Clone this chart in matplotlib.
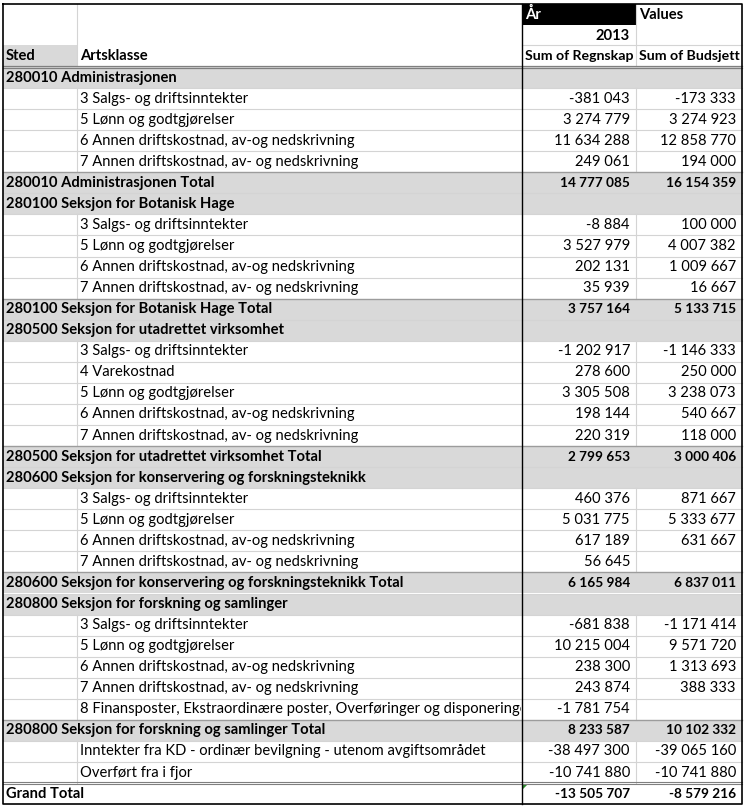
import matplotlib.pyplot as plt
from matplotlib.patches import Rectangle, Polygon

plt.rcParams['font.family'] = ['Lato', 'DejaVu Sans']

steder = ["280010 Administrasjonen",
          "280100 Seksjon for Botanisk Hage",
          "280500 Seksjon for utadrettet virksomhet",
          "280600 Seksjon for konservering og forskningsteknikk",
          "280800 Seksjon for forskning og samlinger"]

artsklasse = [
    ["3 Salgs- og driftsinntekter", "5 Lønn og godtgjørelser",
     "6 Annen driftskostnad, av-og nedskrivning", "7 Annen driftskostnad, av- og nedskrivning"],
    ["3 Salgs- og driftsinntekter", "5 Lønn og godtgjørelser",
     "6 Annen driftskostnad, av-og nedskrivning", "7 Annen driftskostnad, av- og nedskrivning"],
    ["3 Salgs- og driftsinntekter", "4 Varekostnad", "5 Lønn og godtgjørelser",
     "6 Annen driftskostnad, av-og nedskrivning", "7 Annen driftskostnad, av- og nedskrivning"],
    ["3 Salgs- og driftsinntekter", "5 Lønn og godtgjørelser",
     "6 Annen driftskostnad, av-og nedskrivning", "7 Annen driftskostnad, av- og nedskrivning"],
    ["3 Salgs- og driftsinntekter", "5 Lønn og godtgjørelser",
     "6 Annen driftskostnad, av-og nedskrivning", "7 Annen driftskostnad, av- og nedskrivning",
     "8 Finansposter, Ekstraordinære poster, Overføringer og disponeringer"],
]

regnskap = [
    [-381043, 3274779, 11634288, 249061],
    [-8884, 3527979, 202131, 35939],
    [-1202917, 278600, 3305508, 198144, 220319],
    [460376, 5031775, 617189, 56645],
    [-681838, 10215004, 238300, 243874, -1781754],
]
budsjett = [
    [-173333, 3274923, 12858770, 194000],
    [100000, 4007382, 1009667, 16667],
    [-1146333, 250000, 3238073, 540667, 118000],
    [871667, 5333677, 631667, None],
    [-1171414, 9571720, 1313693, 388333, None],
]
total_regnskap = [14777085, 3757164, 2799653, 6165984, 8233587]
total_budsjett = [16154359, 5133715, 3000406, 6837011, 10102332]

andre_poster = ["Inntekter fra KD - ordinær bevilgning - utenom avgiftsområdet",
                "Overført fra i fjor"]
andre_regnskap = [-38497300, -10741880]
andre_budsjett = [-39065160, -10741880]

grand_regnskap = -13505707
grand_budsjett = -8579216


def fmt(v):
    if v is None:
        return ""
    return f"{v:,}".replace(",", " ")


rows = []
for i, sted in enumerate(steder):
    rows.append(("group", sted, "", None, None))
    for a, r, b in zip(artsklasse[i], regnskap[i], budsjett[i]):
        rows.append(("item", "", a, r, b))
    rows.append(("total", sted + " Total", "", total_regnskap[i], total_budsjett[i]))
for a, r, b in zip(andre_poster, andre_regnskap, andre_budsjett):
    rows.append(("item", "", a, r, b))
rows.append(("grand", "Grand Total", "", grand_regnskap, grand_budsjett))

# ---- layout ----
W, H = 746, 809
xA, xB, xC, xD, xE = 3, 77, 522, 636, 742
top0 = 67.0
rh = 21.06
fs = 10.6
gray = "#d9d9d9"
grid = "#d4d4d4"

fig = plt.figure(figsize=(W / 100, H / 100), dpi=100)
ax = fig.add_axes([0, 0, 1, 1])
ax.set_xlim(0, W)
ax.set_ylim(H, 0)
ax.axis("off")

# header
ax.add_patch(Rectangle((xC, 4), xD - xC, 21, color="black", lw=0))
ax.add_patch(Rectangle((xA, 45), xB - xA, 21, color=gray, lw=0))
ax.text(xC + 3, 14.5, "År", color="white", fontsize=fs, fontweight="bold", va="center")
ax.text(xD + 3, 14.5, "Values", fontsize=fs, fontweight="bold", va="center")
ax.text(xD - 6, 35.5, "2013", fontsize=fs, fontweight="bold", va="center", ha="right")
ax.text(xA + 3, 56, "Sted", fontsize=fs, fontweight="bold", va="center")
ax.text(xB + 3, 56, "Artsklasse", fontsize=fs, fontweight="bold", va="center")
ax.text(xC + 3, 56, "Sum of Regnskap", fontsize=fs - 0.4, fontweight="bold", va="center")
ax.text(xD + 3, 56, "Sum of Budsjett", fontsize=fs - 0.4, fontweight="bold", va="center")
ax.plot([xC, xE], [45, 45], color=grid, lw=0.8)
ax.plot([xD, xD], [4, 66], color=grid, lw=0.8)
ax.plot([xB, xB], [4, 66], color=grid, lw=0.8)

# body fills
for k, (kind, a, b, r, bu) in enumerate(rows):
    y0 = top0 + k * rh
    if kind in ("group", "total"):
        ax.add_patch(Rectangle((xA, y0), xE - xA, rh, color=gray, lw=0))

# body lines and text
for k, (kind, a, b, r, bu) in enumerate(rows):
    y0 = top0 + k * rh
    y1 = y0 + rh
    if kind == "item":
        ax.plot([xB, xB], [y0, y1], color=grid, lw=0.8)
        ax.plot([xD, xD], [y0, y1], color=grid, lw=0.8)
    if kind == "total":
        ax.plot([xA, xE], [y0, y0], color="#9c9c9c", lw=1.0)
    elif kind == "grand":
        ax.plot([xA, xE], [y0 - 1.2, y0 - 1.2], color="#7f7f7f", lw=0.8)
        ax.plot([xA, xE], [y0 + 0.8, y0 + 0.8], color="#7f7f7f", lw=0.8)
    elif k > 0:
        ax.plot([xA, xE], [y0, y0], color=grid, lw=0.8)

    cy = y0 + rh / 2
    bold = "bold" if kind != "item" else "normal"
    nfs = fs - 0.8 if kind != "item" else fs
    if a:
        ax.text(xA + 3, cy, a, fontsize=fs, fontweight=bold, va="center")
    if b:
        t = ax.text(xB + 3, cy, b, fontsize=fs, va="center")
        t.set_clip_on(True)
        t.set_clip_path(Rectangle((xB, y0), xC - xB - 1, rh, transform=ax.transData))
    if r is not None:
        ax.text(xD - 6, cy, fmt(r), fontsize=nfs, fontweight=bold, va="center", ha="right")
    if bu is not None:
        ax.text(xE - 6, cy, fmt(bu), fontsize=nfs, fontweight=bold, va="center", ha="right")

bottom = top0 + len(rows) * rh
grand_top = top0 + (len(rows) - 1) * rh
# header double line
ax.plot([xA, xE], [65.5, 65.5], color="#7f7f7f", lw=0.9)
ax.plot([xA, xE], [67.5, 67.5], color="#7f7f7f", lw=0.9)
# error marker
ax.add_patch(Polygon([[xC + 1, grand_top + 1], [xC + 6, grand_top + 1], [xC + 1, grand_top + 6]],
                     closed=True, color="#2e8b2e", lw=0))
# outer frame and main divider
ax.plot([xA, xE, xE, xA, xA], [4, 4, bottom, bottom, 4], color="black", lw=1.2)
ax.plot([xC, xC], [4, bottom], color="black", lw=1.0)

fig.savefig("out.png", dpi=100)
